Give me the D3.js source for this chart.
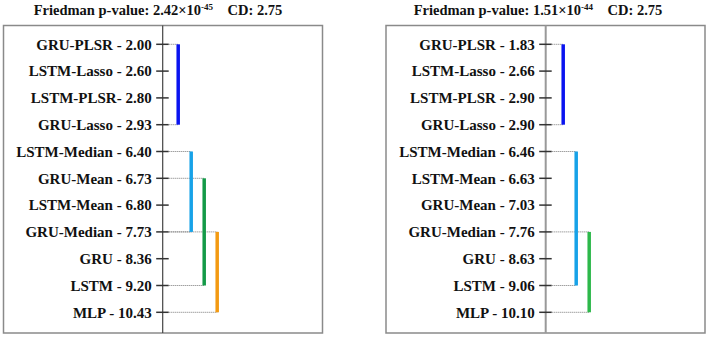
<!DOCTYPE html>
<html>
<head>
<meta charset="utf-8">
<script src="https://cdn.jsdelivr.net/npm/d3@7"></script>
<style>
  body { margin: 0; background: #fff; }
  svg { display: block; }
</style>
</head>
<body>
<svg id="chart" width="708" height="337"></svg>
<script>
// Left panel data
const leftLabels = ["GRU-PLSR", "LSTM-Lasso", "LSTM-PLSR", "GRU-Lasso", "LSTM-Median", "GRU-Mean",
    "LSTM-Mean", "GRU-Median", "GRU", "LSTM", "MLP"];
const leftRanks = ["2.00", "2.60", "2.80", "2.93", "6.40", "6.73", "6.80", "7.73", "8.36", "9.20", "10.43"];
const leftSep = [" - ", " - ", "- ", " - ", " - ", " - ", " - ", " - ", " - ", " - ", " - "];
const leftCliques = [[0, 3], [4, 7], [5, 9], [7, 10]];  // index ranges of non-significant groups
const leftColors = ["#0a14f0", "#17a2e8", "#149a48", "#f39a12"];
const leftP = ["2.42", "-45"];

// Right panel data
const rightLabels = ["GRU-PLSR", "LSTM-Lasso", "LSTM-PLSR", "GRU-Lasso", "LSTM-Median", "LSTM-Mean",
    "GRU-Mean", "GRU-Median", "GRU", "LSTM", "MLP"];
const rightRanks = ["1.83", "2.66", "2.90", "2.90", "6.46", "6.63", "7.03", "7.76", "8.63", "9.06", "10.10"];
const rightSep = [" - ", " - ", " - ", " - ", " - ", " - ", " - ", " - ", " - ", " - ", " - "];
const rightCliques = [[0, 3], [4, 9], [7, 10]];
const rightColors = ["#0a14f0", "#17a2e8", "#2db84a"];
const rightP = ["1.51", "-44"];

const cd = "2.75";

const svg = d3.select("#chart")
    .attr("font-family", "Liberation Serif")
    .attr("font-weight", "bold");

function drawPanel(opts) {
    const g = svg.append("g");
    const y = d3.scalePoint()
        .domain(d3.range(opts.labels.length))
        .range([44.3, 312.3]);
    // clique bars step to the right of the axis
    const barX = d3.scaleLinear().domain([0, 1]).range([opts.axisX + opts.barStart, opts.axisX + opts.barStart + 13]);

    // Frame
    g.append("rect")
        .attr("x", opts.x0).attr("y", 25.5)
        .attr("width", opts.x1 - opts.x0).attr("height", 307.5)
        .attr("fill", "#fff")
        .attr("stroke", "#8a8a8a")
        .attr("stroke-width", 1.5);

    // Title
    const title = g.append("text")
        .attr("x", opts.titleX).attr("y", 15)
        .attr("text-anchor", "middle")
        .attr("fill", "#111")
        .attr("font-size", 14.5);
    title.append("tspan").text("Friedman p-value: " + opts.p[0] + "×10");
    title.append("tspan").text(opts.p[1]).attr("dy", -5).attr("font-size", 9);
    title.append("tspan").text("\u00a0\u00a0\u00a0 CD: " + cd).attr("dy", 5);

    // Vertical axis line
    g.append("line")
        .attr("x1", opts.axisX).attr("x2", opts.axisX)
        .attr("y1", 25.5).attr("y2", 333)
        .attr("stroke", opts.axisColor)
        .attr("stroke-width", opts.axisWidth);

    // Tick marks
    g.selectAll(".tick")
        .data(opts.labels)
        .join("line")
        .attr("x1", opts.axisX - 6.5).attr("x2", opts.axisX + 6)
        .attr("y1", (d, i) => y(i)).attr("y2", (d, i) => y(i))
        .attr("stroke", "#333")
        .attr("stroke-width", 1.5);

    // Labels
    g.selectAll(".lab")
        .data(opts.labels)
        .join("text")
        .attr("x", opts.axisX - 11)
        .attr("y", (d, i) => y(i))
        .attr("dy", "0.35em")
        .attr("text-anchor", "end")
        .attr("fill", "#111")
        .attr("font-size", 15)
        .text((d, i) => d + opts.sep[i] + opts.ranks[i]);

    // Dotted connectors at both ends of each clique
    opts.cliques.forEach((c, k) => {
        c.forEach(idx => {
            g.append("line")
                .attr("x1", opts.axisX + 6).attr("x2", barX(k))
                .attr("y1", y(idx)).attr("y2", y(idx))
                .attr("stroke", "#777")
                .attr("stroke-width", 1)
                .attr("stroke-dasharray", "1,1");
        });
    });

    // Clique bars
    g.selectAll(".bar")
        .data(opts.cliques)
        .join("line")
        .attr("x1", (d, k) => barX(k)).attr("x2", (d, k) => barX(k))
        .attr("y1", d => y(d[0])).attr("y2", d => y(d[1]))
        .attr("stroke", (d, k) => opts.colors[k])
        .attr("stroke-width", 3.5);
}

drawPanel({
    labels: leftLabels, ranks: leftRanks, sep: leftSep, cliques: leftCliques, colors: leftColors,
    p: leftP, x0: 3.5, x1: 322.5, axisX: 162.7, titleX: 158, axisColor: "#444", axisWidth: 1.2, barStart: 15.5
});
drawPanel({
    labels: rightLabels, ranks: rightRanks, sep: rightSep, cliques: rightCliques, colors: rightColors,
    p: rightP, x0: 386, x1: 705, axisX: 545.7, titleX: 538, axisColor: "#999", axisWidth: 2, barStart: 17.5
});
</script>
</body>
</html>
